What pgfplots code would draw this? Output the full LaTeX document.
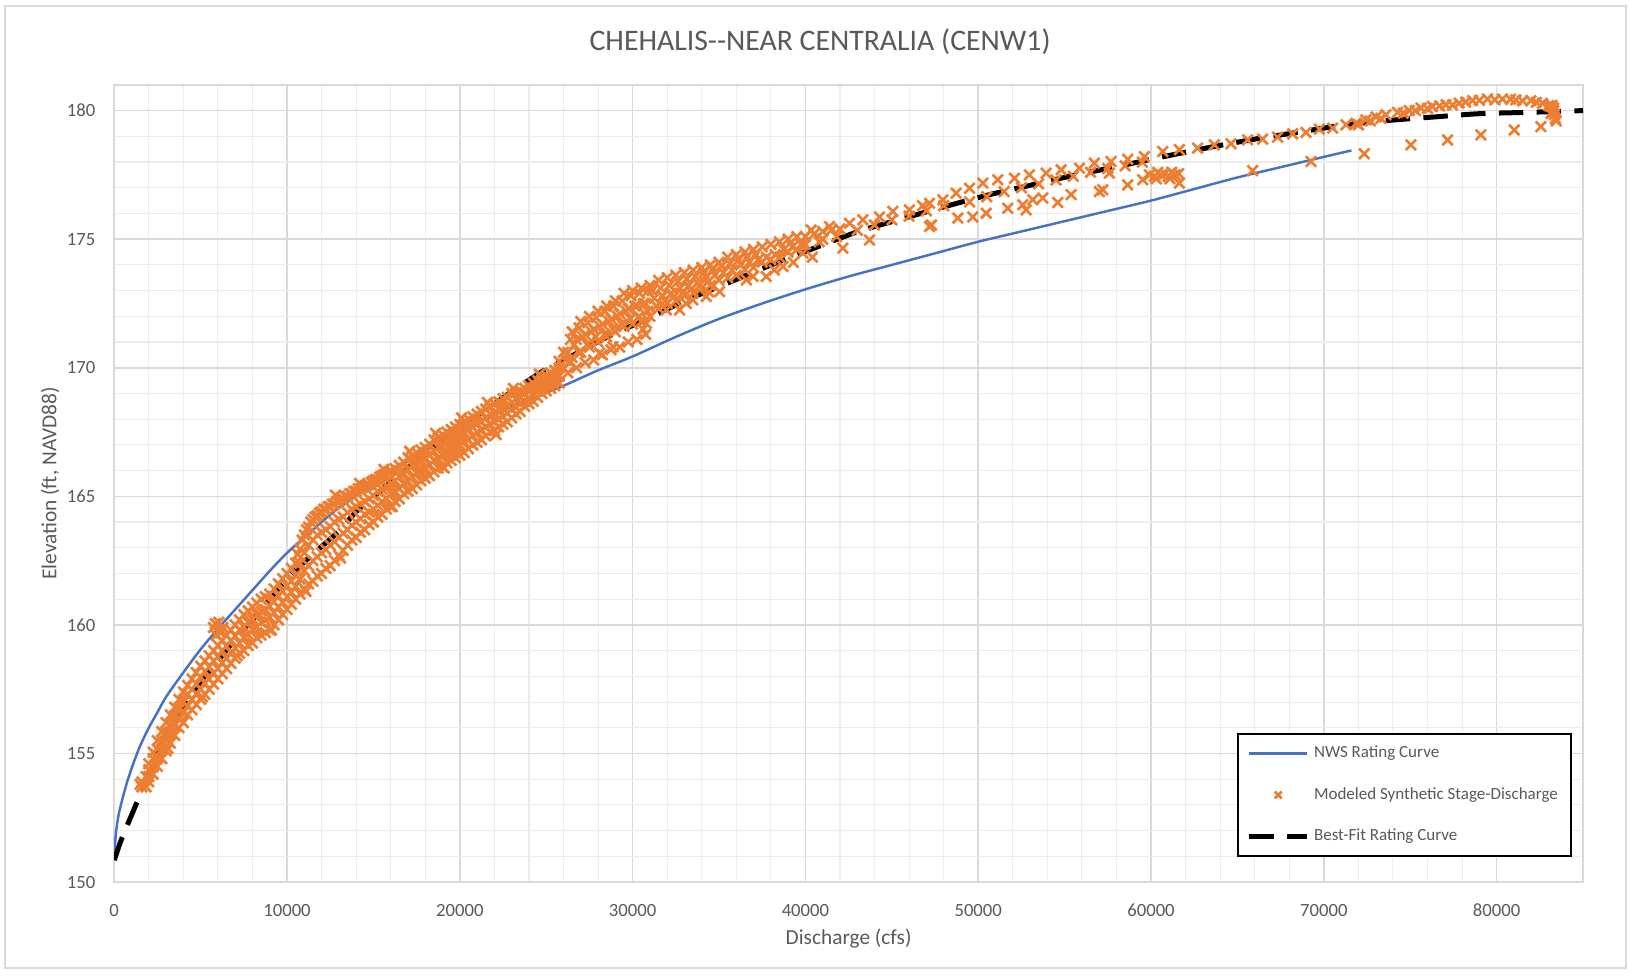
\documentclass[border=0pt]{standalone}
\usepackage{pgfplots}
\pgfplotsset{compat=1.18}
\usepackage{fontspec}
\setmainfont{Carlito}
\definecolor{nwsblue}{HTML}{4472C4}
\definecolor{modorange}{HTML}{ED7D31}
\definecolor{txtgray}{HTML}{595959}
\definecolor{majgrid}{HTML}{D9D9D9}
\definecolor{mingrid}{HTML}{EDEDED}

\pgfplotsset{
  lineleg/.style={legend image code/.code={\draw[##1] (0pt,0pt) -- (26pt,0pt);}},
  markleg/.style={legend image code/.code={\draw[##1, mark size=2.2pt] plot coordinates {(13pt,0pt)};}},
}

\begin{document}
\begin{tikzpicture}
\useasboundingbox (-51.4pt,-42.3pt) rectangle (681.6pt,396.9pt);
% chart area border
\draw[majgrid, line width=0.6pt] (-49.2pt,-38.7pt) rectangle (680.3pt,394.2pt);

\begin{axis}[
    at={(0pt,0pt)}, anchor=south west,
    scale only axis, width=660.9pt, height=358.7pt,
    xmin=0, xmax=85000, ymin=150, ymax=181,
    xtick={0,10000,...,80000}, ytick={150,155,...,180},
    minor x tick num=4, minor y tick num=4,
    grid=both,
    major grid style={majgrid, line width=0.7pt},
    minor grid style={mingrid, line width=0.5pt},
    axis line style={majgrid, line width=0.7pt},
    tick style={draw=none},
    scaled x ticks=false,
    /pgf/number format/1000 sep={},
    /pgf/number format/assume math mode=true,
    tick label style={font=\fontsize{8.4}{10}\selectfont, text=txtgray},
    xticklabel style={yshift=-6.3pt},
    yticklabel style={xshift=-5pt},
    xlabel={Discharge (cfs)},
    xlabel style={at={(axis description cs:0.5,-0.0703)}, anchor=center,
        font=\fontsize{9.6}{11}\selectfont, text=txtgray},
    ylabel={Elevation (ft, NAVD88)},
    ylabel style={at={(axis description cs:-0.0437,0.5)}, anchor=center,
        font=\fontsize{9.6}{11}\selectfont, text=txtgray},
    legend cell align=left,
    legend style={at={(axis description cs:0.9926,0.0312)}, anchor=south east,
        draw=black, line width=0.8pt, fill=white,
        font=\fontsize{7.65}{9}\selectfont, text=txtgray,
        inner xsep=4pt, inner ysep=3.5pt, row sep=7.9pt,
        nodes={inner sep=2pt}},
]

% NWS rating curve
\addplot[nwsblue, line width=1.1pt, smooth, lineleg]
coordinates {
(0,151.0) (100,151.9) (250,152.6) (500,153.3) (750,153.9) (1100,154.6)
(1500,155.3) (2000,156.0) (2500,156.6) (3000,157.2) (4000,158.15)
(5000,159.05) (6000,159.85) (7000,160.6) (8000,161.35) (9000,162.1)
(10000,162.8) (11000,163.4) (12000,164.0) (13000,164.55) (14000,165.05)
(15000,165.5) (16000,165.95) (17000,166.38) (18000,166.78) (19000,167.15)
(20000,167.5) (21000,167.85) (22000,168.17) (23000,168.5) (24237,168.82)
(26000,169.3) (28000,169.9) (30000,170.44) (32500,171.2) (35000,171.9)
(37500,172.5) (40000,173.05) (42500,173.55) (45000,174.0) (47500,174.45)
(50000,174.9) (52500,175.3) (55000,175.7) (57500,176.1) (60000,176.5)
(62500,176.95) (65000,177.4) (67500,177.8) (70000,178.2) (71600,178.45)
};
\addlegendentry{NWS Rating Curve}

% Modeled synthetic stage-discharge
\addplot[only marks, mark=x, mark size=3.3pt, color=modorange,
    mark options={line width=1.2pt}, markleg]
coordinates {
(1500,153.8) (1600,153.9) (1600,153.7) (1850,154.1) (1850,153.7)
(2000,154.6) (2000,154.1) (2250,154.8) (2250,154.2) (2500,155.5) (2500,154.8)
(2750,155.5) (2750,154.8) (3000,156.2) (3000,155.5) (3250,156.1) (3250,155.4)
(3500,156.8) (3500,156.1) (3750,156.7) (3750,156.0) (4000,157.4) (4000,156.6)
(4250,157.3) (4250,156.5) (4500,157.9) (4500,157.1) (4750,157.7) (4750,156.9)
(5000,158.4) (5000,157.5) (5250,158.2) (5250,157.3) (5500,158.8) (5500,157.9)
(5750,158.6) (5750,157.7) (6000,159.2) (6000,158.3) (6250,159.0) (6250,158.1)
(6500,159.6) (6500,158.7) (6750,159.4) (6750,158.5) (7000,160.0) (7000,159.1)
(7250,159.8) (7250,158.9) (7500,160.4) (7500,159.5) (7750,160.1) (7750,159.2)
(8000,160.7) (8000,159.8) (8250,160.4) (8250,159.5) (8500,161.0) (8500,160.1)
(8750,160.6) (8750,159.7) (9000,161.2) (9000,160.3) (9250,160.9) (9250,160.0)
(9500,161.6) (9500,160.7) (9750,161.3) (9750,160.4) (10000,162.0) (10000,161.1)
(10250,161.7) (10250,160.8) (10500,162.4) (10500,161.5) (10750,162.4) (10750,161.2)
(11000,163.5) (11000,162.1) (11250,163.1) (11250,161.6) (11500,164.1) (11500,162.5)
(11750,163.5) (11750,161.9) (12000,164.4) (12000,162.8) (12250,163.7) (12250,162.2)
(12500,164.6) (12500,163.1) (12750,164.0) (12750,162.5) (13000,164.8) (13000,163.4)
(13250,164.2) (13250,162.9) (13500,165.0) (13500,163.7) (13750,164.5) (13750,163.3)
(14000,165.2) (14000,164.0) (14250,164.7) (14250,163.6) (14500,165.4) (14500,164.3)
(14750,164.9) (14750,163.9) (15000,165.6) (15000,164.5) (15250,165.2) (15250,164.2)
(15500,165.8) (15500,164.8) (15750,165.4) (15750,164.5) (16000,166.0) (16000,165.1)
(16250,165.6) (16250,164.8) (16500,166.2) (16500,165.3) (16750,165.9) (16750,165.1)
(17000,166.5) (17000,165.6) (17250,166.2) (17250,165.3) (17500,166.7) (17500,165.9)
(17750,166.4) (17750,165.6) (18000,166.9) (18000,166.1) (18250,166.6) (18250,165.8)
(18500,167.2) (18500,166.4) (18750,166.9) (18750,166.1) (19000,167.4) (19000,166.6)
(19250,167.1) (19250,166.3) (19500,167.6) (19500,166.8) (19750,167.3) (19750,166.5)
(20000,167.8) (20000,167.0) (20250,167.5) (20250,166.7) (20500,168.0) (20500,167.2)
(20750,167.7) (20750,167.0) (21000,168.2) (21000,167.5) (21250,167.9) (21250,167.2)
(21500,168.4) (21500,167.7) (21750,168.2) (21750,167.5) (22000,168.6) (22000,167.9)
(22250,168.4) (22250,167.7) (22500,168.8) (22500,168.1) (22750,168.5) (22750,167.9)
(23000,169.0) (23000,168.4) (23250,168.8) (23250,168.2) (23500,169.1) (23500,168.6)
(23750,169.0) (23750,168.5) (24000,169.3) (24000,168.8) (24250,169.2) (24250,168.7)
(24500,169.5) (24500,169.1) (24750,169.4) (24750,169.0) (25000,169.7) (25000,169.3)
(25250,169.6) (25250,169.2) (25500,169.9) (25500,169.5) (25750,170.0) (25750,169.4)
(2000,154.37) (2000,153.9) (2500,155.17) (2500,154.5) (3000,155.83) (3000,155.1)
(3500,156.43) (3500,155.7) (4000,157.0) (4000,156.2) (4500,157.5) (4500,156.7)
(5000,157.97) (5000,157.1) (5500,158.37) (5500,157.5) (6000,158.77) (6000,157.9)
(6500,159.17) (6500,158.3) (7000,159.57) (7000,158.7) (7500,159.93) (7500,159.0)
(8000,160.23) (8000,159.3) (8500,160.53) (8500,159.6) (9000,160.73) (9000,159.8)
(9500,161.13) (9500,160.2) (10000,161.53) (10000,160.6) (10500,161.93) (10500,161.0)
(11000,162.8) (11000,161.4) (11500,163.3) (11500,161.7) (12000,163.6) (12000,162.0)
(12500,163.83) (12500,162.3) (13000,164.1) (13000,162.7) (13500,164.37) (13500,163.1)
(14000,164.6) (14000,163.4) (14500,164.8) (14500,163.7) (15000,165.03) (15000,164.0)
(15500,165.27) (15500,164.3) (16000,165.5) (16000,164.6) (16500,165.77) (16500,164.9)
(17000,166.03) (17000,165.2) (17500,166.28) (17500,165.45) (18000,166.5) (18000,165.7)
(18500,166.75) (18500,165.95) (19000,166.98) (19000,166.15) (19500,167.2) (19500,166.4)
(20000,167.4) (20000,166.6) (20500,167.62) (20500,166.85) (21000,167.83) (21000,167.1)
(21500,168.05) (21500,167.35) (22000,168.25) (22000,167.55) (22500,168.43) (22500,167.8)
(23000,168.65) (23000,168.05) (23500,168.83) (23500,168.3) (24000,169.07) (24000,168.6)
(24500,169.28) (24500,168.85) (25000,169.5) (25000,169.1) (25500,169.7) (25500,169.3)
(2250,155.05) (2250,154.48) (2750,155.85) (2750,155.15) (3250,156.5) (3250,155.77)
(3750,157.1) (3750,156.33) (4250,157.65) (4250,156.85) (4750,158.15) (4750,157.32)
(5250,158.6) (5250,157.73) (5750,159.0) (5750,158.13) (6250,159.4) (6250,158.53)
(6750,159.8) (6750,158.93) (7250,160.2) (7250,159.3) (7750,160.55) (7750,159.62)
(8250,160.85) (8250,159.92) (8750,161.1) (8750,160.17) (9250,161.4) (9250,160.47)
(9750,161.8) (9750,160.87) (10250,162.2) (10250,161.27) (10750,162.95) (10750,161.78)
(11250,163.8) (11250,162.3) (11750,164.25) (11750,162.65) (12250,164.5) (12250,162.93)
(12750,164.7) (12750,163.23) (13250,164.9) (13250,163.57) (13750,165.1) (13750,163.87)
(14250,165.28) (14250,164.13) (14750,165.45) (14750,164.38) (15250,165.65) (15250,164.65)
(15750,165.85) (15750,164.92) (16250,166.08) (16250,165.19) (16750,166.33) (16750,165.48)
(17250,166.58) (17250,165.75) (17750,166.8) (17750,165.99) (18250,167.03) (18250,166.23)
(18750,167.28) (18750,166.46) (19250,167.5) (19250,166.69) (19750,167.7) (19750,166.9)
(20250,167.9) (20250,167.12) (20750,168.1) (20750,167.35) (21250,168.3) (21250,167.59)
(21750,168.5) (21750,167.8) (22250,168.68) (22250,168.01) (22750,168.85) (22750,168.24)
(23250,169.03) (23250,168.46) (23750,169.2) (23750,168.7) (24250,169.4) (24250,168.95)
(24750,169.6) (24750,169.19) (25250,169.8) (25250,169.4) (25750,170.25) (25750,169.68)
(10625,162.75) (10875,163.3) (11125,163.7) (11375,164.0) (11625,164.2) (11875,164.35)
(12125,164.5) (12375,164.6) (12625,164.7) (12875,164.8) (13125,164.9) (13375,165.0)
(13625,165.1) (13875,165.2) (14125,165.3) (14375,165.35) (14625,165.45) (14875,165.55)
(15125,165.65) (15375,165.75) (15625,165.85) (15875,165.95)
(12800,165.05) (14200,165.5) (15600,166.05) (17100,166.75) (18600,167.45)
(20100,168.05) (21600,168.65) (23100,169.2) (24600,169.75)
(3100,155.2) (5100,157.2) (7100,158.8) (9100,159.8) (11100,161.3) (13100,162.6)
(16100,164.6) (19100,166.1) (22100,167.4)
(5750,159.9) (5900,159.6) (6050,160.1) (6150,159.7) (6300,159.9) (5850,160.05)
(26000,170.6) (26000,170.0) (26125,170.3) (26250,170.6) (26250,169.8)
(26500,171.4) (26500,170.4) (26625,170.9) (26750,171.1) (26750,170.0)
(27000,171.8) (27000,170.6) (27125,171.2) (27250,171.3) (27250,170.2)
(27500,172.0) (27500,170.8) (27625,171.4) (27750,171.5) (27750,170.3)
(28000,172.2) (28000,171.0) (28125,171.6) (28250,171.7) (28250,170.5)
(28500,172.4) (28500,171.2) (28625,171.8) (28750,171.9) (28750,170.7)
(29000,172.6) (29000,171.4) (29125,172.0) (29250,172.1) (29250,170.8)
(29500,172.9) (29500,171.6) (29625,172.2) (29750,172.3) (29750,171.0)
(30000,173.0) (30000,171.7) (30125,172.4) (30250,172.4) (30250,171.1)
(30500,173.1) (30500,171.8) (30625,172.5) (30750,172.5) (30750,171.3)
(31000,173.2) (31000,172.0)
(26375,170.2) (26875,170.6) (27375,170.9) (27875,171.2) (28375,171.3)
(28875,171.5) (29375,171.7) (29875,171.9) (30375,172.0) (30875,172.2)
(26400,171.1) (26900,171.55) (27400,171.75) (27900,171.95) (28400,172.2)
(28900,172.4) (29400,172.6) (29900,172.8) (30400,172.9) (30900,173.0)
(31250,172.7) (31500,173.4) (31500,172.3) (31750,172.8) (32000,173.5) (32000,172.5)
(32250,172.9) (32500,173.6) (32500,172.6) (32750,173.1) (33000,173.7) (33000,172.8)
(33250,173.2) (33500,173.8) (33500,172.9) (33750,173.3) (34000,173.9) (34000,173.1)
(34250,173.5) (34500,174.0) (34500,173.2) (34750,173.6) (35000,174.1) (35000,173.4)
(35250,173.7) (35500,174.3) (35500,173.5) (35750,173.8) (36000,174.4) (36000,173.6)
(36250,174.0) (36500,174.5) (36500,173.8) (36750,174.1) (37000,174.6) (37000,173.9)
(37250,174.2) (37500,174.7) (37500,174.1) (37750,174.3) (38000,174.8) (38000,174.2)
(38250,174.4) (38500,174.9) (38500,174.3) (38750,174.6) (39000,175.0) (39000,174.5)
(39250,174.7) (39500,175.1) (39500,174.6) (39750,174.8) (40000,175.1) (40000,174.8)
(40500,175.2) (41000,175.0) (41000,175.3) (41500,175.35) (42000,175.4)
(31125,173.0) (31625,173.1) (32125,173.2) (32625,173.35) (33125,173.45)
(33625,173.55) (34125,173.7) (34625,173.8) (35125,173.95) (35625,174.05)
(36125,174.2) (36625,174.3) (37125,174.4)
(31375,172.4) (31875,172.6) (32375,172.75) (32875,172.9) (33375,173.05)
(33875,173.2) (34375,173.35)
(28093,170.57) (28864,170.82) (30600,171.5) (30795,171.73) (31950,172.25)
(32720,172.25) (33100,172.5) (33490,172.64) (34263,172.77) (34400,172.95)
(35030,172.96) (36580,173.42) (36960,173.55) (37734,173.55) (38700,173.94)
(39850,174.46) (38200,173.8) (39300,174.1) (40400,174.3)
(40336,175.36) (41395,175.49) (42552,175.62) (43323,175.75) (44289,175.86)
(45058,176.08) (46019,176.14) (46770,176.3) (47180,176.4) (47950,176.53)
(48720,176.79) (49493,176.98) (50263,177.18) (51131,177.31) (52097,177.37)
(52964,177.5) (53930,177.57) (54798,177.7) (55856,177.76) (56724,177.96)
(57689,178.02) (58650,178.11) (59616,178.21)
(40800,174.9) (41800,175.1) (43000,175.35) (44000,175.55) (45000,175.75)
(46000,175.9) (47000,176.1) (48000,176.3) (49500,176.45) (50500,176.65)
(51500,176.85) (52500,177.0) (53500,177.15) (54500,177.3) (55500,177.45)
(56500,177.6) (57500,177.75) (58500,177.85) (59500,178.0)
(42165,174.65) (43710,174.97) (47180,175.49) (47300,175.55) (48817,175.82)
(49685,175.86) (50460,176.01) (51710,176.2) (52578,176.34) (52770,176.14)
(53156,176.53) (53734,176.6) (54602,176.43) (55377,176.73) (57013,176.85)
(57205,176.92) (57590,177.57) (58650,177.11) (59517,177.31)
(59900,177.5) (60200,177.45) (60400,177.6) (60600,177.5) (60800,177.55)
(61000,177.45) (61200,177.6) (61400,177.5) (61600,177.55) (61100,177.35)
(60300,177.35) (61640,177.18)
(60675,178.41) (61640,178.48) (62700,178.54) (63665,178.67) (64630,178.71)
(65590,178.86) (66460,178.89) (67327,178.97) (68195,179.1) (68970,179.15)
(69740,179.28) (70510,179.32) (71280,179.45) (71860,179.51) (72440,179.64)
(73018,179.75) (73597,179.84) (74268,179.93) (74944,180.0) (75620,180.1)
(76290,180.16) (77067,180.23) (77835,180.29) (78607,180.39) (79475,180.45)
(80340,180.45) (81115,180.42) (81985,180.39) (82655,180.29) (83140,180.16)
(72000,179.45) (72700,179.6) (73300,179.7) (74600,179.9) (75300,180.0)
(76000,180.08) (76700,180.18) (77450,180.22) (78200,180.33) (79000,180.4)
(79900,180.42) (80800,180.44) (81500,180.38) (82300,180.32) (83000,180.2)
(83200,180.2) (83300,180.0) (83350,179.85) (83400,179.7) (83250,179.95)
(83450,179.6) (83300,180.1) (83150,179.9)
(65880,177.67) (69260,178.02) (72340,178.32) (75040,178.67) (77160,178.86)
(79090,179.06) (81020,179.25) (82560,179.38)
};
\addlegendentry{Modeled Synthetic Stage-Discharge}

% best-fit rating curve
\addplot[black, line width=2.25pt, smooth, dash pattern=on 11pt off 6pt, lineleg]
coordinates {
(0,150.85) (250,151.35) (500,151.8) (1000,152.6) (1500,153.4) (2000,154.2)
(2500,155.0) (3000,155.7) (3500,156.3) (4000,156.85) (5000,157.8) (6000,158.6)
(7000,159.45) (8000,160.2) (9000,161.0) (10000,161.8) (11000,162.45)
(11850,162.96) (13000,163.65) (14000,164.4) (15000,164.98) (16000,165.55)
(17000,166.1) (18000,166.65) (19000,167.2) (20000,167.7) (21000,168.15)
(22000,168.6) (23000,169.07) (24000,169.52) (25000,169.95) (26260,170.38)
(28570,171.21) (30830,171.9) (33140,172.64) (35560,173.31) (38020,174.0)
(40500,174.65) (43070,175.3) (45580,175.79) (48090,176.27) (50590,176.72)
(53100,177.11) (55660,177.5) (58000,177.82) (60580,178.19) (63470,178.58)
(66080,178.9) (68520,179.16) (71280,179.45) (73770,179.62) (76330,179.75)
(78990,179.88) (81690,179.93) (85000,180.0)
};
\addlegendentry{Best-Fit Rating Curve}

\end{axis}

\node[font=\fontsize{13.4}{16}\selectfont, text=txtgray] at (317.6pt,378.2pt)
    {CHEHALIS-{}-NEAR CENTRALIA (CENW1)};
\end{tikzpicture}
\end{document}
